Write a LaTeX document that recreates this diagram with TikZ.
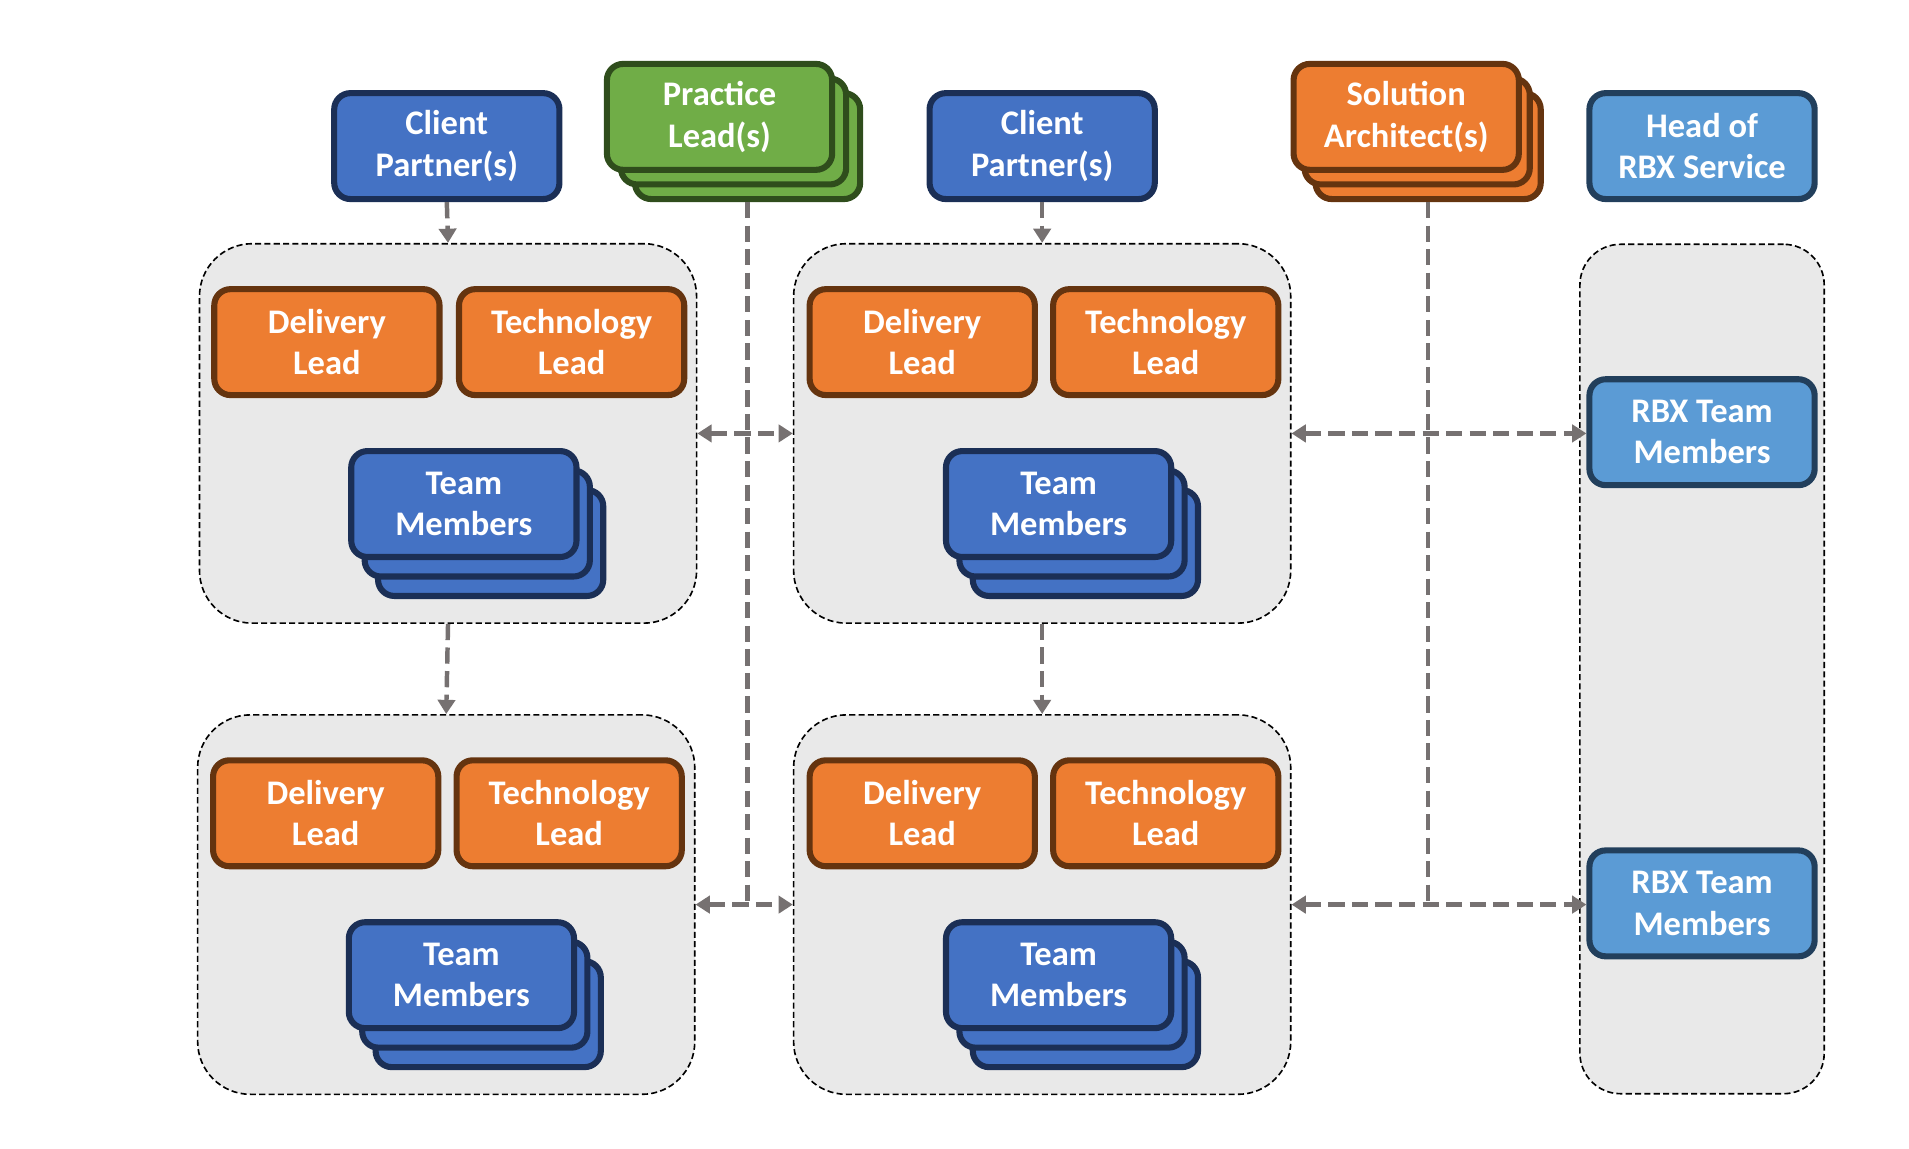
\documentclass[tikz,border=0pt]{standalone}
\usepackage{fontspec}
\setmainfont{Carlito}
\usetikzlibrary{arrows.meta}
\definecolor{bluefill}{HTML}{4472C4}
\definecolor{blueline}{HTML}{1B2F56}
\definecolor{orangefill}{HTML}{ED7D31}
\definecolor{orangeline}{HTML}{65340F}
\definecolor{greenfill}{HTML}{70AD47}
\definecolor{greenline}{HTML}{2F4D1C}
\definecolor{lbluefill}{HTML}{5B9BD5}
\definecolor{lblueline}{HTML}{223F5C}
\definecolor{grpfill}{HTML}{E9E9E9}
\definecolor{conncol}{HTML}{767171}
\begin{document}
\begin{tikzpicture}[x=0.6pt,y=-0.6pt,
  box/.style={draw, line width=3pt, rounded corners=8pt, minimum width=111pt, minimum height=52.2pt,
    inner sep=0pt, align=center, text=white, font=\fontsize{17}{20.4}\selectfont\bfseries},
  bluebox/.style={box, fill=bluefill, draw=blueline},
  orangebox/.style={box, fill=orangefill, draw=orangeline},
  greenbox/.style={box, fill=greenfill, draw=greenline},
  lbluebox/.style={box, fill=lbluefill, draw=lblueline},
  grp/.style={draw=black, line width=0.8pt, dash pattern=on 3pt off 1.6pt, fill=grpfill,
    rounded corners=26pt, inner sep=0pt, minimum width=245pt, minimum height=187pt},
  conn/.style={draw=conncol, line width=2.2pt, dash pattern=on 8pt off 3.6pt},
  tipend/.style={-{Triangle[length=7pt,width=8.5pt]}},
  tipboth/.style={{Triangle[length=7pt,width=8.5pt]}-{Triangle[length=7pt,width=8.5pt]}}
]
\useasboundingbox (0,0) rectangle (1568,943);

% top row
\node[bluebox] (cp1) at (367,120) {Client\\Partner(s)};
\node[greenbox] (pl3) at (614,120) {};
\node[greenbox] (pl2) at (602.5,108) {};
\node[greenbox] (pl) at (591,96) {Practice\\Lead(s)};
\node[bluebox] (cp2) at (856,120) {Client\\Partner(s)};
\node[orangebox] (sa3) at (1173,120) {};
\node[orangebox] (sa2) at (1164,108) {};
\node[orangebox] (sa) at (1155,96) {Solution\\Architect(s)};
\node[lbluebox] (head) at (1398,120) {Head of\\RBX Service};

% groups
\node[grp] (gtl) at (368,356) {};
\node[grp] (gtm) at (856,356) {};
\node[grp] (gbl) at (366.5,743) {};
\node[grp] (gbm) at (856,743) {};
\node[grp, minimum width=120.4pt, minimum height=418.6pt, rounded corners=20pt] (gr) at (1398,549.5) {};

% group top-left
\node[orangebox] (dl1) at (268.5,281) {Delivery\\Lead};
\node[orangebox] (tl1) at (469.5,281) {Technology\\Lead};
\node[bluebox] (tma3) at (403,446) {};
\node[bluebox] (tma2) at (392,430) {};
\node[bluebox] (tma) at (381,414) {Team\\Members};

% group top-middle
\node[orangebox] (dl2) at (757.5,281) {Delivery\\Lead};
\node[orangebox] (tl2) at (957.5,281) {Technology\\Lead};
\node[bluebox] (tmb3) at (891.5,446) {};
\node[bluebox] (tmb2) at (880.5,430) {};
\node[bluebox] (tmb) at (869.5,414) {Team\\Members};

% group bottom-left
\node[orangebox] (dl3) at (267.5,668) {Delivery\\Lead};
\node[orangebox] (tl3) at (467.5,668) {Technology\\Lead};
\node[bluebox] (tmc3) at (401,833) {};
\node[bluebox] (tmc2) at (390,817) {};
\node[bluebox] (tmc) at (379,801) {Team\\Members};

% group bottom-middle
\node[orangebox] (dl4) at (757.5,668) {Delivery\\Lead};
\node[orangebox] (tl4) at (957.5,668) {Technology\\Lead};
\node[bluebox] (tmd3) at (891.5,833) {};
\node[bluebox] (tmd2) at (880.5,817) {};
\node[bluebox] (tmd) at (869.5,801) {Team\\Members};

% right column
\node[lbluebox] (rbx1) at (1398,355) {RBX Team\\Members};
\node[lbluebox] (rbx2) at (1398,742) {RBX Team\\Members};

% connectors
\draw[conn,tipend] (cp1.south) -- (gtl.north);
\draw[conn,tipend] (cp2.south) -- (gtm.north);
\draw[conn,tipend] (gtl.south) -- (gbl.north);
\draw[conn,tipend] (gtm.south) -- (gbm.north);

\coordinate (plend) at (pl3.south |- gbl.east);
\coordinate (saend) at (sa3.south |- gbm.east);
\draw[conn] (pl3.south) -- (plend);
\draw[conn] (sa3.south) -- (saend);

\draw[conn,tipboth] (gtl.east) -- (gtm.west);
\draw[conn,tipboth] (gbl.east) -- (gbm.west);
\draw[conn,tipboth] (gtm.east) -- (gtm.east -| rbx1.west);
\draw[conn,tipboth] (gbm.east) -- (gbm.east -| rbx2.west);
\end{tikzpicture}
\end{document}
